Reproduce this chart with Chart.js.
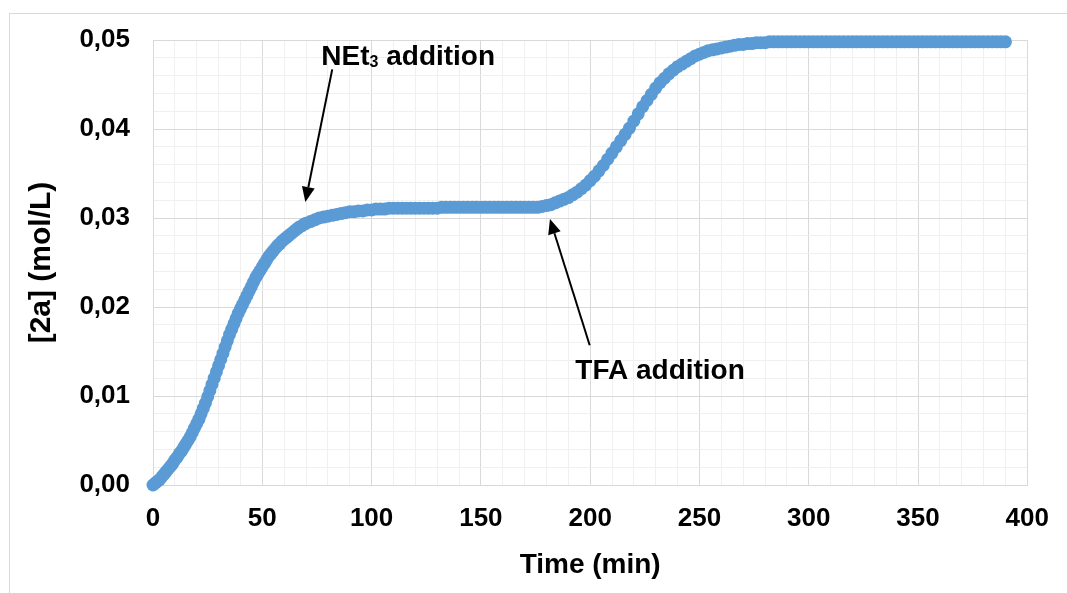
<!DOCTYPE html>
<html>
<head>
<meta charset="utf-8">
<script src="https://cdn.jsdelivr.net/npm/chart.js@4.4.1/dist/chart.umd.min.js"></script>
<style>
  html, body { margin: 0; padding: 0; background: #fff; overflow: hidden; }
  #frame { position: absolute; left: 9px; top: 13px; width: 1100px; height: 700px;
           border-left: 1px solid #d9d9d9; border-top: 1px solid #d9d9d9; }
  #chart { position: absolute; left: 0; top: 0; }
</style>
</head>
<body>
<div id="frame"></div>
<canvas id="chart" width="1067" height="593"></canvas>
<script>
// time (min): every minute during the first rise, then every 2 min
const times = [
  0, 1, 2, 3, 4, 5, 6, 7, 8, 9, 10, 11, 12, 13, 14, 15, 16, 17, 18, 19,
  20, 21, 22, 23, 24, 25, 26, 27, 28, 29, 30, 31, 32, 33, 34, 35, 36, 37, 38, 39,
  40, 41, 42, 43, 44, 45, 46, 47, 48, 49, 50, 51, 52, 53, 54, 55, 56, 57, 58, 59,
  60, 61, 62, 63, 64, 65, 66, 67, 68, 69, 70,
  72, 74, 76, 78, 80, 82, 84, 86, 88, 90, 92, 94, 96, 98, 100, 102, 104, 106, 108, 110,
  112, 114, 116, 118, 120, 122, 124, 126, 128, 130, 132, 134, 136, 138, 140, 142, 144, 146, 148, 150,
  152, 154, 156, 158, 160, 162, 164, 166, 168, 170, 172, 174, 176, 178, 180, 182, 184, 186, 188, 190,
  192, 194, 196, 198, 200, 202, 204, 206, 208, 210, 212, 214, 216, 218, 220, 222, 224, 226, 228, 230,
  232, 234, 236, 238, 240, 242, 244, 246, 248, 250, 252, 254, 256, 258, 260, 262, 264, 266, 268, 270,
  272, 274, 276, 278, 280, 282, 284, 286, 288, 290, 292, 294, 296, 298, 300, 302, 304, 306, 308, 310,
  312, 314, 316, 318, 320, 322, 324, 326, 328, 330, 332, 334, 336, 338, 340, 342, 344, 346, 348, 350,
  352, 354, 356, 358, 360, 362, 364, 366, 368, 370, 372, 374, 376, 378, 380, 382, 384, 386, 388, 390
];

// [2a] (mol/L)
const conc2a = [
  0.0000, 0.0002, 0.0004, 0.0006, 0.0009, 0.0012, 0.0015, 0.0018, 0.0021, 0.0024,
  0.0028, 0.0031, 0.0035, 0.0038, 0.0042, 0.0046, 0.0050, 0.0054, 0.0059, 0.0064,
  0.0069, 0.0074, 0.0080, 0.0086, 0.0092, 0.0099, 0.0106, 0.0113, 0.0120, 0.0127,
  0.0134, 0.0141, 0.0148, 0.0155, 0.0162, 0.0169, 0.0175, 0.0181, 0.0187, 0.0193,
  0.0198, 0.0203, 0.0208, 0.0213, 0.0218, 0.0223, 0.0228, 0.0233, 0.0237, 0.0241,
  0.0245, 0.0249, 0.0253, 0.0257, 0.0260, 0.0263, 0.0266, 0.0269, 0.0271, 0.0274,
  0.0276, 0.0278, 0.0280, 0.0282, 0.0284, 0.0286, 0.0288, 0.0290, 0.0291, 0.0293,
  0.0294,
  0.0296, 0.0298, 0.0300, 0.0301, 0.0302, 0.0303, 0.0304, 0.0305, 0.0306, 0.0307,
  0.0307, 0.0308, 0.0308, 0.0309, 0.0309, 0.0310, 0.0310, 0.0310, 0.0311, 0.0311,
  0.0311, 0.0311, 0.0311, 0.0311, 0.0311, 0.0311, 0.0311, 0.0311, 0.0311, 0.0311,
  0.0312, 0.0312, 0.0312, 0.0312, 0.0312, 0.0312, 0.0312, 0.0312, 0.0312, 0.0312,
  0.0312, 0.0312, 0.0312, 0.0312, 0.0312, 0.0312, 0.0312, 0.0312, 0.0312, 0.0312,
  0.0312, 0.0312, 0.0312, 0.0313, 0.0314, 0.0315, 0.0317, 0.0319, 0.0321, 0.0323,
  0.0326, 0.0329, 0.0333, 0.0337, 0.0342, 0.0347, 0.0353, 0.0359, 0.0366, 0.0373,
  0.0380, 0.0387, 0.0394, 0.0401, 0.0409, 0.0417, 0.0425, 0.0432, 0.0439, 0.0446,
  0.0452, 0.0457, 0.0462, 0.0466, 0.0470, 0.0473, 0.0476, 0.0479, 0.0482, 0.0484,
  0.0486, 0.0488, 0.0489, 0.0490, 0.0491, 0.0492, 0.0493, 0.0494, 0.0495, 0.0495,
  0.0496, 0.0496, 0.0497, 0.0497, 0.0497, 0.0498, 0.0498, 0.0498, 0.0498, 0.0498,
  0.0498, 0.0498, 0.0498, 0.0498, 0.0498, 0.0498, 0.0498, 0.0498, 0.0498, 0.0498,
  0.0498, 0.0498, 0.0498, 0.0498, 0.0498, 0.0498, 0.0498, 0.0498, 0.0498, 0.0498,
  0.0498, 0.0498, 0.0498, 0.0498, 0.0498, 0.0498, 0.0498, 0.0498, 0.0498, 0.0498,
  0.0498, 0.0498, 0.0498, 0.0498, 0.0498, 0.0498, 0.0498, 0.0498, 0.0498, 0.0498,
  0.0498, 0.0498, 0.0498, 0.0498, 0.0498, 0.0498, 0.0498, 0.0498, 0.0498, 0.0498
];

const xTitle = 'Time (min)';
const yTitle = '[2a] (mol/L)';

// arrows: [time, conc] from tail to tip
const arrows = [
  { from: [82, 0.0467], to: [69.7, 0.0318] },
  { from: [199.8, 0.0157], to: [181.6, 0.0299] }
];
// labels: anchor at left/baseline, pieces with size and baseline shift
const notes = [
  { at: [77, 0.0472], parts: [['NEt', 28, 0], ['3', 16, 2], [' addition', 28, 0]] },
  { at: [193.2, 0.0119], parts: [['TFA addition', 28, 0]] }
];

const FONT = "'Liberation Sans', Arial, sans-serif";

const notesPlugin = {
  id: 'notes',
  afterDraw(chart) {
    const ctx = chart.ctx;
    const xs = chart.scales.x;
    const ys = chart.scales.y;
    ctx.save();
    ctx.fillStyle = '#000';
    ctx.strokeStyle = '#000';
    ctx.lineWidth = 2;

    for (const a of arrows) {
      const x1 = xs.getPixelForValue(a.from[0]), y1 = ys.getPixelForValue(a.from[1]);
      const x2 = xs.getPixelForValue(a.to[0]), y2 = ys.getPixelForValue(a.to[1]);
      const ang = Math.atan2(y2 - y1, x2 - x1);
      const headLen = 15, headW = 6.5;
      const bx = x2 - headLen * Math.cos(ang), by = y2 - headLen * Math.sin(ang);
      ctx.beginPath();
      ctx.moveTo(x1, y1);
      ctx.lineTo(bx, by);
      ctx.stroke();
      ctx.beginPath();
      ctx.moveTo(x2, y2);
      ctx.lineTo(bx + headW * Math.sin(ang), by - headW * Math.cos(ang));
      ctx.lineTo(bx - headW * Math.sin(ang), by + headW * Math.cos(ang));
      ctx.closePath();
      ctx.fill();
    }

    ctx.textAlign = 'left';
    ctx.textBaseline = 'alphabetic';
    for (const n of notes) {
      let x = xs.getPixelForValue(n.at[0]);
      const y = ys.getPixelForValue(n.at[1]);
      for (const [txt, size, dy] of n.parts) {
        ctx.font = 'bold ' + size + 'px ' + FONT;
        ctx.fillText(txt, x, y + dy);
        x += ctx.measureText(txt).width;
      }
    }
    ctx.restore();
  }
};

const isMajorX = v => Math.round(v) % 50 === 0;
const isMajorY = v => Math.round(v * 1000) % 10 === 0;

new Chart(document.getElementById('chart'), {
  type: 'scatter',
  data: {
    datasets: [{
      label: '[2a]',
      data: times.map((t, i) => ({ x: t, y: conc2a[i] })),
      backgroundColor: '#5b9bd5',
      borderColor: '#5b9bd5',
      borderWidth: 0,
      pointRadius: 6.5,
      pointHoverRadius: 6.5,
      clip: false
    }]
  },
  options: {
    responsive: false,
    animation: false,
    devicePixelRatio: 1,
    layout: { padding: { left: 0, top: 40, right: 36, bottom: 0 } },
    plugins: {
      legend: { display: false },
      tooltip: { enabled: false }
    },
    scales: {
      x: {
        type: 'linear',
        min: 0,
        max: 400,
        afterFit: s => { s.height = 108; },
        grid: {
          color: c => isMajorX(c.tick.value) ? '#d9d9d9' : '#f0f0f0',
          lineWidth: 1,
          drawTicks: false
        },
        border: { color: '#d9d9d9' },
        ticks: {
          stepSize: 10,
          autoSkip: false,
          maxRotation: 0,
          padding: 18,
          color: '#000',
          font: { family: FONT, size: 26, weight: 'bold' },
          callback: v => isMajorX(v) ? String(Math.round(v)) : ''
        },
        title: {
          display: true,
          text: xTitle,
          color: '#000',
          font: { family: FONT, size: 28, weight: 'bold' },
          padding: { top: 0, bottom: 11 }
        }
      },
      y: {
        type: 'linear',
        min: 0,
        max: 0.05,
        afterFit: s => { s.width = 153; },
        grid: {
          color: c => isMajorY(c.tick.value) ? '#d9d9d9' : '#f0f0f0',
          lineWidth: 1,
          drawTicks: false
        },
        border: { color: '#d9d9d9' },
        ticks: {
          stepSize: 0.002,
          autoSkip: false,
          padding: 23,
          color: '#000',
          font: { family: FONT, size: 26, weight: 'bold' },
          callback: v => isMajorY(v) ? v.toFixed(2).replace('.', ',') : ''
        },
        title: {
          display: true,
          text: yTitle,
          color: '#000',
          font: { family: FONT, size: 30, weight: 'bold' },
          padding: { top: 24, bottom: 0 }
        }
      }
    }
  },
  plugins: [notesPlugin]
});
</script>
</body>
</html>
